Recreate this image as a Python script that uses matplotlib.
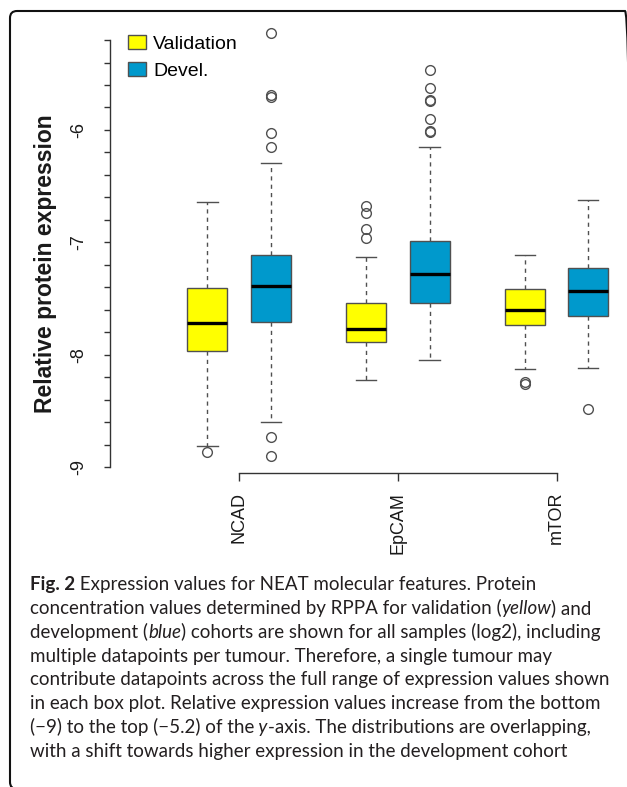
import numpy as np
import matplotlib
matplotlib.use("Agg")
import matplotlib.pyplot as plt
from matplotlib.patches import Patch, FancyBboxPatch
from matplotlib.transforms import IdentityTransform

plt.rcParams['font.family'] = ['Liberation Sans', 'DejaVu Sans']
plt.rcParams['axes.unicode_minus'] = False

# box statistics (log2 relative protein expression)
features = ['NCAD', 'EpCAM', 'mTOR']

val_whislo = [-8.81, -8.23, -8.13]
val_q1 = [-7.97, -7.89, -7.74]
val_med = [-7.72, -7.77, -7.60]
val_q3 = [-7.41, -7.54, -7.42]
val_whishi = [-6.64, -7.13, -7.11]
val_fliers = [[-8.87], [-6.68, -6.74, -6.88, -6.96], [-8.24, -8.26]]

dev_whislo = [-8.60, -8.05, -8.12]
dev_q1 = [-7.71, -7.54, -7.66]
dev_med = [-7.39, -7.28, -7.43]
dev_q3 = [-7.11, -6.99, -7.23]
dev_whishi = [-6.29, -6.15, -6.62]
dev_fliers = [[-5.14, -5.69, -5.71, -6.03, -6.15, -8.73, -8.90],
              [-5.47, -5.63, -5.73, -5.74, -5.90, -6.01, -6.02],
              [-8.48]]

ytick_vals = np.arange(-9, -5.19, 0.2)
ytick_major = [-9, -8, -7, -6]

yellow = '#FFFF00'
blue = '#0099CC'
edge = '#505050'


def make_stats(lo, q1, med, q3, hi, fl):
    out = []
    for i in range(len(med)):
        out.append(dict(whislo=lo[i], q1=q1[i], med=med[i], q3=q3[i],
                        whishi=hi[i], fliers=fl[i]))
    return out


W, H = 627, 787
fig = plt.figure(figsize=(W / 100, H / 100), dpi=100)
ax = fig.add_axes([110 / W, (H - 472.6) / H, 510 / W, 455 / H])

pos_val = [1, 3.5, 6]
pos_dev = [2, 4.5, 7]
common = dict(widths=0.63, patch_artist=True, capwidths=0.32,
              medianprops=dict(color='black', linewidth=2.4),
              whiskerprops=dict(color=edge, linestyle=(0, (3, 3)), linewidth=1),
              capprops=dict(color=edge, linewidth=1),
              flierprops=dict(marker='o', markerfacecolor='none', markeredgecolor=edge,
                              markersize=7, markeredgewidth=1))
ax.bxp(make_stats(val_whislo, val_q1, val_med, val_q3, val_whishi, val_fliers),
       positions=pos_val, boxprops=dict(facecolor=yellow, edgecolor=edge, linewidth=1), **common)
ax.bxp(make_stats(dev_whislo, dev_q1, dev_med, dev_q3, dev_whishi, dev_fliers),
       positions=pos_dev, boxprops=dict(facecolor=blue, edgecolor=edge, linewidth=1), **common)

ax.set_xlim(-0.535, 7.5)
ax.set_ylim(-9.05, -5.0)

for s in ['top', 'right']:
    ax.spines[s].set_visible(False)
ax.spines['left'].set_bounds(-9, -5.2)
ax.spines['bottom'].set_bounds(1.5, 6.5)
for s in ['left', 'bottom']:
    ax.spines[s].set_color('#333333')
    ax.spines[s].set_linewidth(1)

ax.set_yticks(ytick_vals)
ax.set_yticklabels([str(int(round(v))) if any(abs(v - m) < 1e-6 for m in ytick_major) else ''
                    for v in ytick_vals], rotation=90, va='center')
ax.tick_params(axis='y', length=4.5, width=1, color='#333333', pad=12,
               labelsize=13, labelcolor='#1a1a1a')

ax.set_xticks([(a + b) / 2 for a, b in zip(pos_val, pos_dev)])
ax.set_xticklabels(features, rotation=90)
ax.tick_params(axis='x', length=5.8, width=1, color='#333333', pad=8,
               labelsize=13, labelcolor='#1a1a1a')

ax.set_ylabel('Relative protein expression', fontsize=16.5, fontweight='bold', color='#1a1a1a')
ax.yaxis.set_label_coords(-0.104, 0.46)

handles = [Patch(facecolor=yellow, edgecolor=edge, linewidth=1),
           Patch(facecolor=blue, edgecolor=edge, linewidth=1)]
fig.legend(handles, ['Validation', 'Devel.'], loc='upper left',
           bbox_to_anchor=(128 / W, 1 - 35 / H), bbox_transform=fig.transFigure,
           frameon=False, fontsize=14, borderpad=0, borderaxespad=0,
           handlelength=0.92, handleheight=0.72, handletextpad=0.36, labelspacing=0.5)

# caption
cap_font = ['Lato', 'DejaVu Sans']
cap_size = 13.5
cap_color = '#231f20'
caption = [
    [("Fig. 2", 'bold', 'normal'), (" Expression values for NEAT molecular features. Protein", 'normal', 'normal')],
    [("concentration values determined by RPPA for validation (", 'normal', 'normal'), ("yellow", 'normal', 'italic'), (") and", 'normal', 'normal')],
    [("development (", 'normal', 'normal'), ("blue", 'normal', 'italic'), (") cohorts are shown for all samples (log2), including", 'normal', 'normal')],
    [("multiple datapoints per tumour. Therefore, a single tumour may", 'normal', 'normal')],
    [("contribute datapoints across the full range of expression values shown", 'normal', 'normal')],
    [("in each box plot. Relative expression values increase from the bottom", 'normal', 'normal')],
    [("(\u22129) to the top (\u22125.2) of the", 'normal', 'normal'), (" y", 'normal', 'italic'), ("-axis. The distributions are overlapping,", 'normal', 'normal')],
    [("with a shift towards higher expression in the development cohort", 'normal', 'normal')],
]
renderer = fig.canvas.get_renderer()
for i, line in enumerate(caption):
    x = 30
    yb = H - (590 + 23.86 * i)
    for txt, wt, st in line:
        t = fig.text(x, yb, txt, transform=IdentityTransform(), fontsize=cap_size,
                     family=cap_font, fontweight=wt, fontstyle=st, color=cap_color,
                     va='baseline', ha='left')
        x += t.get_window_extent(renderer).width

border = FancyBboxPatch((10, -2), 622, 778, boxstyle="round,pad=0,rounding_size=7",
                        transform=IdentityTransform(), fill=False, lw=1.5, ec='#111111')
fig.add_artist(border)

plt.savefig("out.png", dpi=100)
